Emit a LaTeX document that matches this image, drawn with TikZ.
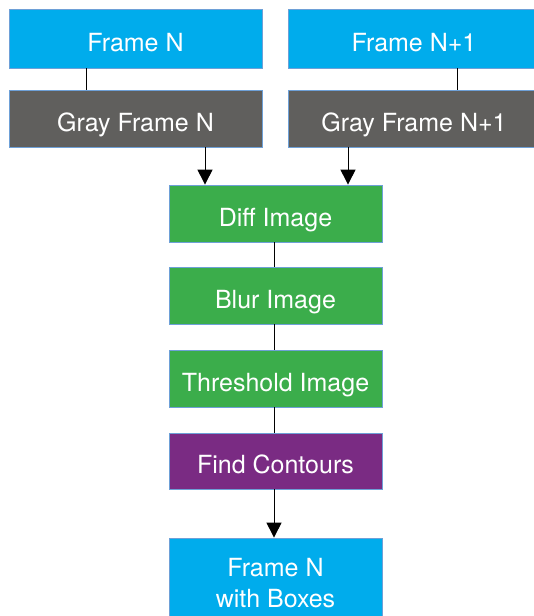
\documentclass[tikz,border=0pt]{standalone}
\usepackage{fontspec}
\setmainfont{TeX Gyre Heros}
\usetikzlibrary{arrows.meta}
\definecolor{fblue}{RGB}{0,172,236}
\definecolor{fgray}{RGB}{96,95,93}
\definecolor{fgreen}{RGB}{59,173,75}
\definecolor{fpurple}{RGB}{122,43,131}
\definecolor{fborder}{RGB}{110,160,215}
\tikzset{
  boxbase/.style={rectangle, draw=fborder, line width=0.8pt, inner sep=0pt,
    text=white, font=\fontsize{25}{31}\selectfont, align=center},
  box/.style={boxbase, text height=25pt, text depth=0pt},
  conn/.style={line width=1pt, black},
  arr/.style={conn, -{Triangle[width=15pt,length=15pt]}}
}
\begin{document}
\begin{tikzpicture}[x=1pt,y=-1pt]
\useasboundingbox (0,0) rectangle (534,616);
\node[box, fill=fblue, minimum width=253pt, minimum height=59pt] (f1) at (135.5,38.5) {Frame N};
\node[box, fill=fgray, minimum width=253pt, minimum height=57pt] (g1) at (135.5,118.5) {Gray Frame N};
\node[box, fill=fblue, minimum width=252pt, minimum height=59pt] (f2) at (414,38.5) {Frame N+1};
\node[box, fill=fgray, minimum width=252pt, minimum height=57pt] (g2) at (414,118.5) {Gray Frame N+1};
\node[box, fill=fgreen, minimum width=213pt, minimum height=57pt] (diff) at (275.5,213.5) {Diff Image};
\node[box, fill=fgreen, minimum width=213pt, minimum height=57pt] (blur) at (275.5,295.5) {Blur Image};
\node[box, fill=fgreen, minimum width=213pt, minimum height=57pt] (thr) at (275.5,378.5) {Threshold Image};
\node[box, fill=fpurple, minimum width=213pt, minimum height=56pt] (fc) at (275.5,461) {Find Contours};
\node[boxbase, fill=fblue, minimum width=213pt, minimum height=90pt] (out) at (275.5,583) {Frame N\\with Boxes};
\draw[conn] (f1.south -| 86,0) -- (g1.north -| 86,0);
\draw[conn] (f2.south -| 457,0) -- (g2.north -| 457,0);
\draw[arr] (g1.south -| 205,0) -- (diff.north -| 205,0);
\draw[arr] (g2.south -| 348,0) -- (diff.north -| 348,0);
\draw[conn] (diff.south -| 274,0) -- (blur.north -| 274,0);
\draw[conn] (blur.south -| 274,0) -- (thr.north -| 274,0);
\draw[conn] (thr.south -| 274,0) -- (fc.north -| 274,0);
\draw[arr] (fc.south -| 274,0) -- (out.north -| 274,0);
\end{tikzpicture}
\end{document}
